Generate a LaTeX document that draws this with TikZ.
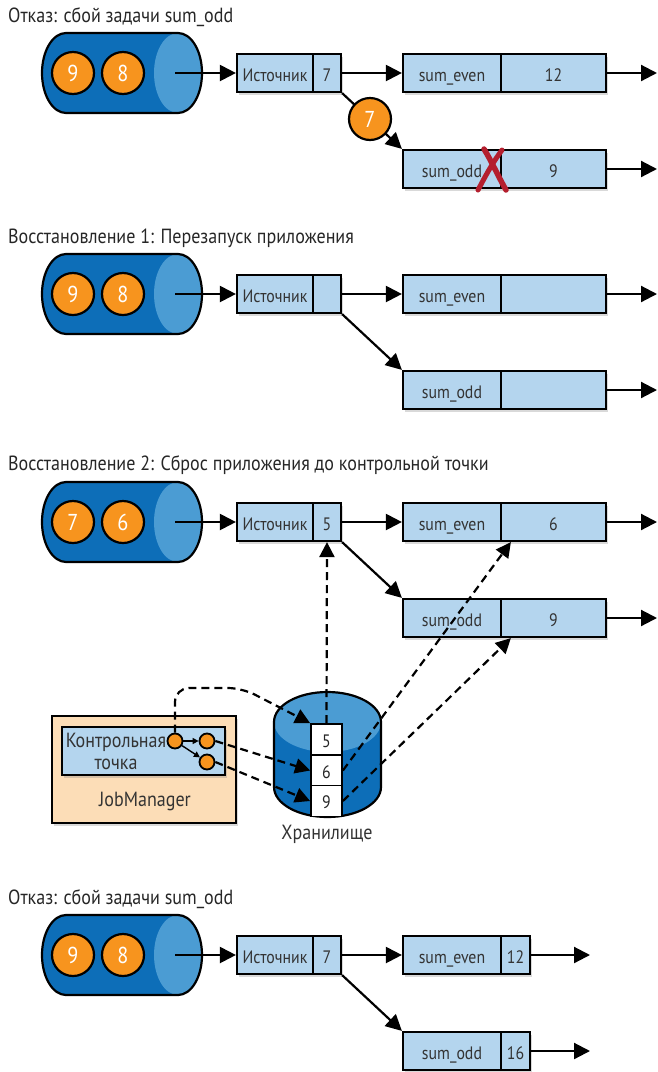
\documentclass[tikz,border=0pt]{standalone}
\usepackage{fontspec}
\setmainfont{PT Sans}[FakeStretch=0.88]
\usetikzlibrary{arrows.meta,shadows,calc}
\definecolor{cyldark}{HTML}{0D6EB8}
\definecolor{cyllight}{HTML}{4B9CD3}
\definecolor{boxblue}{HTML}{B4D5EE}
\definecolor{orng}{HTML}{F7941E}
\definecolor{peach}{HTML}{FCDDB7}
\definecolor{xred}{HTML}{B41F2E}
\definecolor{txt}{HTML}{333333}
\newcommand{\Cyl}[4]{% #1 dy, #2 id, #3 #4 numbers
  \fill[cyldark] (66,#1+33) -- (178,#1+33) arc[start angle=90,end angle=-90,x radius=24pt,y radius=40pt] -- (66,#1+113) arc[start angle=270,end angle=90,x radius=24pt,y radius=40pt] -- cycle;
  \fill[cyllight] (178,#1+73) ellipse[x radius=24pt,y radius=40pt];
  \draw[line width=2.2pt] (66,#1+33) -- (178,#1+33) arc[start angle=90,end angle=-90,x radius=24pt,y radius=40pt] -- (66,#1+113) arc[start angle=270,end angle=90,x radius=24pt,y radius=40pt] -- cycle;
  \node[ball] (ba#2) at (73,#1+73) {#3};
  \node[ball] (bb#2) at (123,#1+73) {#4};
  \coordinate (cyl#2) at (175,#1+73);
}
\newcommand{\Pipe}[7]{% #1 dy, #2 id, #3 src val, #4 even val, #5 odd val, #6 right width, #7 right center
  \node[cell, minimum width=76pt] (srcL#2) at (275,#1+73) {Источник};
  \node[cell, minimum width=28pt] (srcR#2) at (327,#1+73) {#3};
  \node[cell, minimum width=98pt] (evenL#2) at (452,#1+73) {sum\_even};
  \node[cell, minimum width=#6pt] (evenR#2) at (#7,#1+73) {#4};
  \node[cell, minimum width=98pt] (oddL#2) at (452,#1+169) {sum\_odd};
  \node[cell, minimum width=#6pt] (oddR#2) at (#7,#1+169) {#5};
  \draw[arr] (cyl#2) -- (srcL#2.west);
  \draw[arr] (srcR#2.east) -- (evenL#2.west);
  \draw[arr] (srcR#2.south east) -- (oddL#2.north west);
}
\begin{document}
\begin{tikzpicture}[x=1pt,y=-1pt,
  every node/.style={font=\fontsize{18}{21}\selectfont, text=txt},
  big/.style={font=\fontsize{20.5}{24}\selectfont},
  ttl/.style={anchor=base west, inner sep=0pt, text=black!85, big},
  cell/.style={draw=black, line width=2.2pt, fill=boxblue, minimum height=38pt, inner sep=0pt,
     text height=17pt, text depth=0pt,
     drop shadow={shadow xshift=2pt, shadow yshift=-3pt, opacity=0.3}},
  ball/.style={circle, draw=black, line width=2.2pt, fill=orng, minimum size=42pt, inner sep=0pt, text=white,
     font=\fontsize{23}{26}\selectfont},
  sball/.style={circle, draw=black, line width=1.8pt, fill=orng, minimum size=15pt, inner sep=0pt},
  arr/.style={line width=2.2pt, -{Triangle[length=16pt,width=16pt]}},
  darr/.style={line width=2.2pt, dash pattern=on 8pt off 5pt, -{Triangle[length=15pt,width=15pt]}},
  valbox/.style={draw=black, line width=1.8pt, fill=white, minimum width=31pt, minimum height=31pt, inner sep=0pt, text=black!85,
     text height=15pt, text depth=0pt}
]
\useasboundingbox (0,0) rectangle (658,1072);

% ---------- Section 1
\node[ttl] (t1) at (8,22) {Отказ: сбой задачи sum\_odd};
\Cyl{0}{a}{9}{8}
\Pipe{0}{a}{7}{12}{9}{105}{553.5}
\coordinate (oea) at (657,73);
\coordinate (ooa) at (657,169);
\draw[arr] (evenRa.east) -- (oea);
\draw[arr] (oddRa.east) -- (ooa);
\node[ball] (sevena) at (370,119) {7};
\draw[xred, line width=5.5pt, line cap=round] (484,149) .. controls (492,162) and (498,176) .. (506,190);
\draw[xred, line width=5pt, line cap=round] (502,150) .. controls (491,165) and (485,177) .. (478,190);

% ---------- Section 2
\node[ttl] (t2) at (8,243) {Восстановление 1: Перезапуск приложения};
\Cyl{221}{b}{9}{8}
\Pipe{221}{b}{}{}{}{105}{553.5}
\coordinate (oeb) at (657,294);
\coordinate (oob) at (657,390);
\draw[arr] (evenRb.east) -- (oeb);
\draw[arr] (oddRb.east) -- (oob);

% ---------- Section 3
\node[ttl] (t3) at (8,470) {Восстановление 2: Сброс приложения до контрольной точки};
\Cyl{449}{c}{7}{6}
\Pipe{449}{c}{5}{6}{9}{105}{553.5}
\coordinate (oec) at (657,522);
\coordinate (ooc) at (657,618);
\draw[arr] (evenRc.east) -- (oec);
\draw[arr] (oddRc.east) -- (ooc);

% storage
\fill[cyldark] (274,722) -- (274,787) arc[start angle=180,end angle=360,x radius=53.5pt,y radius=30pt] -- (381,722) arc[start angle=0,end angle=180,x radius=53.5pt,y radius=30pt] -- cycle;
\fill[cyllight] (327.5,722) ellipse[x radius=53.5pt,y radius=30pt];
\draw[line width=2.2pt] (274,722) -- (274,787) arc[start angle=180,end angle=360,x radius=53.5pt,y radius=30pt] -- (381,722) arc[start angle=0,end angle=180,x radius=53.5pt,y radius=30pt] -- cycle;
\node[valbox] (st5) at (326.5,739.5) {5};
\node[valbox] (st6) at (326.5,770.5) {6};
\node[valbox] (st9) at (326.5,801) {9};
\node[big] (stlbl) at (327,834) {Хранилище};

% JobManager
\node[draw=black, line width=2.2pt, fill=peach, minimum width=184pt, minimum height=107pt, inner sep=0pt,
  drop shadow={shadow xshift=2pt, shadow yshift=-3pt, opacity=0.3}] (jm) at (144,769.5) {};
\node[draw=black, line width=2.2pt, fill=boxblue, minimum width=163pt, minimum height=48pt, inner sep=0pt,
  drop shadow={shadow xshift=2pt, shadow yshift=-3pt, opacity=0.3}] (cp) at (143.5,751) {};
\node[align=center, inner sep=0pt, font=\fontsize{20.5}{22}\selectfont] (cptext) at (116,751) {Контрольная\\точка};
\node[big] (jmtext) at (145,801) {JobManager};
\node[sball] (c1) at (175,741) {};
\node[sball] (c2) at (207,741) {};
\node[sball] (c3) at (207,762) {};
\draw[line width=1.4pt, -{Triangle[length=6pt,width=6pt]}] (c1) -- (c2);
\draw[line width=1.4pt, -{Triangle[length=6pt,width=6pt]}] (c1) -- (c3);

\draw[darr] (st5.north) -- (srcRc.south);
\draw[darr] (st6.east) -- ($(evenRc.south west)+(11,0)$);
\draw[darr] (st9.east) -- ($(oddRc.south west)+(11,0)$);
\draw[darr] (c2.east) -- (st6.west);
\draw[darr] (c3.east) -- (st9.west);
\draw[darr, rounded corners=14pt] (c1.north) |- (242,688) -- (st5.north west);

% ---------- Section 4
\node[ttl] (t4) at (8,904) {Отказ: сбой задачи sum\_odd};
\Cyl{882}{d}{9}{8}
\Pipe{882}{d}{7}{12}{16}{29}{515.5}
\coordinate (oed) at (590,955);
\coordinate (ood) at (590,1051);
\draw[arr] (evenRd.east) -- (oed);
\draw[arr] (oddRd.east) -- (ood);
\end{tikzpicture}
\end{document}
